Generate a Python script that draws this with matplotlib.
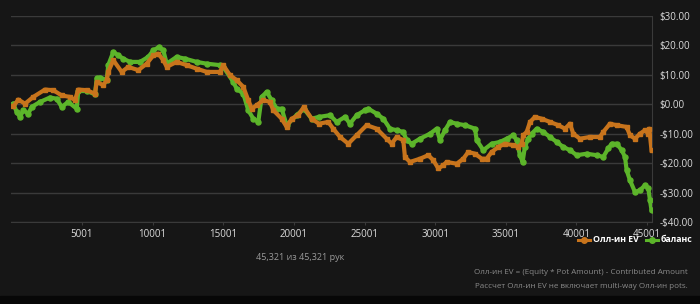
import matplotlib.pyplot as plt
from matplotlib.lines import Line2D

# ------------------------------------------------------------
# данные (руки, $)
# ------------------------------------------------------------
ev_hands = [135, 490, 965, 1550, 2380, 2965, 3560, 4150, 4500, 4735, 5330, 5920,
            6040, 6505, 6745, 6860, 7215, 7810, 8275, 8985, 9580, 10045, 10400,
            10755, 11000, 11700, 12410, 13120, 13825, 14770, 15000, 15475, 15950,
            16420, 16770, 17015, 17365, 17835, 18310, 18545, 19135, 19490, 19845,
            20315, 20705, 21260, 21770, 22435, 22790, 23265, 23850, 24450, 25155,
            25865, 26570, 26925, 27280, 27745, 27865, 28220, 28930, 29515, 29870,
            30225, 30580, 30820, 31530, 31995, 32350, 32825, 33300, 33650, 34005,
            34475, 34945, 35535, 35890, 36130, 36240, 36485, 36720, 37070, 37545,
            38130, 38720, 39195, 39550, 39785, 40255, 40965, 41670, 41905, 42380,
            42855, 43560, 43795, 44150, 44505, 44860, 45095, 45165, 45321]
ev_values = [-0.7, 1.6, 0.2, 2.5, 5.0, 4.8, 3.0, 2.5, 1.4, 5.0, 4.8, 3.6,
             7.6, 6.5, 8.2, 11.0, 15.0, 11.0, 12.7, 11.6, 13.8, 16.6, 17.2,
             15.0, 12.7, 14.4, 13.3, 12.1, 11.0, 11.0, 13.3, 9.9, 8.2,
             5.9, 1.4, -1.5, -0.3, 1.4, 0.8, -2.0, -4.9, -7.7, -4.9,
             -3.7, -0.9, -4.9, -6.6, -6.0, -8.3, -11.1, -13.4, -10.5, -7.1,
             -8.3, -11.7, -13.4, -11.1, -12.2, -17.9, -19.6, -18.5, -17.3, -19.0,
             -21.8, -20.7, -19.6, -20.2, -18.5, -16.2, -16.8, -18.5, -18.5, -16.2,
             -14.5, -13.4, -13.9, -14.5, -13.4, -10.5, -9.4, -6.0, -4.3, -4.9,
             -6.0, -7.1, -8.3, -6.6, -10.0, -11.7, -11.1, -11.1, -9.4, -6.6,
             -7.1, -7.7, -10.5, -11.7, -10.0, -8.8, -10.0, -8.3, -15.6]

bal_hands = [135, 375, 610, 845, 1195, 1440, 2025, 2735, 3210, 3560, 4030, 4625,
             4735, 5330, 5920, 6040, 6275, 6745, 6860, 7215, 7570, 7925, 8400,
             9105, 9695, 10045, 10470, 10755, 11000, 11700, 12290, 13120, 13825,
             14770, 15000, 15710, 15950, 16420, 16770, 17125, 17480, 17720, 18075,
             18430, 18785, 19135, 19490, 20200, 20705, 21260, 21770, 22560, 23030,
             23620, 23970, 24450, 25035, 25270, 25865, 26330, 26805, 27280, 27745,
             27985, 28340, 28930, 29640, 30110, 30345, 30700, 31055, 31530, 32120,
             32825, 32945, 33415, 34005, 34590, 35065, 35535, 35770, 36005, 36195,
             36355, 36590, 36835, 37190, 37660, 38130, 38605, 39075, 39550, 40020,
             40730, 41440, 41905, 42260, 42500, 42855, 43210, 43445, 43560, 43795,
             44150, 44505, 44860, 45095, 45215, 45321]
bal_values = [0.2, -2.6, -4.3, -2.0, -3.2, -0.9, 0.8, 2.3, 1.9, -0.9, 0.8, -1.5,
              4.5, 4.5, 3.4, 8.8, 9.1, 8.2, 13.3, 17.8, 16.6, 15.5, 14.4,
              14.4, 16.1, 18.3, 19.5, 18.3, 13.8, 16.1, 15.5, 14.4, 13.8,
              13.3, 12.7, 7.6, 5.3, 3.6, -2.0, -4.9, -6.0, 2.5, 4.2,
              1.4, -1.5, -1.5, -7.1, -3.7, -1.5, -4.9, -4.3, -3.7, -6.0,
              -4.3, -6.6, -3.7, -2.0, -1.5, -3.2, -4.9, -8.3, -8.8, -9.4,
              -12.2, -13.4, -11.7, -10.0, -8.3, -12.2, -8.8, -6.0, -6.6, -7.1,
              -8.3, -12.2, -15.6, -13.4, -12.8, -11.7, -10.5, -12.2, -17.3, -19.6,
              -14.5, -11.7, -10.0, -8.3, -9.4, -11.1, -12.8, -14.5, -15.6, -17.3,
              -16.8, -17.3, -17.9, -15.0, -13.4, -13.4, -15.6, -17.9, -22.4, -25.8,
              -29.8, -29.2, -27.5, -28.6, -32.6, -36.0]

x_ticks = [5001, 10001, 15001, 20001, 25001, 30001, 35001, 40001, 45001]
y_ticks = [30, 20, 10, 0, -10, -20, -30, -40]
total_hands = 45321

# ------------------------------------------------------------
# цвета
# ------------------------------------------------------------
BG = '#161616'
GRID = '#3a3a3a'
ORANGE = '#c8741c'
GREEN = '#5cb52a'

plt.rcParams['font.family'] = ['Open Sans', 'DejaVu Sans']

fig = plt.figure(figsize=(7, 3.04), dpi=100, facecolor=BG)
ax = fig.add_axes([11.4/700, 1-222/304, (651.5-11.4)/700, (222-16)/304])
ax.set_facecolor(BG)

ax.plot(bal_hands, bal_values, color=GREEN, lw=3.0, marker='o', ms=3.6,
        solid_joinstyle='round', zorder=3)
ax.plot(ev_hands, ev_values, color=ORANGE, lw=3.0, marker='s', ms=3.2,
        solid_joinstyle='round', zorder=4)

ax.set_xlim(1, total_hands)
ax.set_ylim(-40, 30)
ax.set_yticks(y_ticks)
ax.set_yticklabels([f'${v:.2f}' if v >= 0 else f'-${-v:.2f}' for v in y_ticks])
ax.set_xticks(x_ticks)
ax.set_xticklabels([str(v) for v in x_ticks])
ax.yaxis.tick_right()
ax.grid(axis='y', color=GRID, lw=1)
ax.tick_params(axis='y', length=0, pad=6, labelsize=7, labelcolor='#dcdcdc')
ax.tick_params(axis='x', length=2, color=GRID, pad=3, labelsize=7, labelcolor='#dcdcdc')
for s in ['top', 'left']:
    ax.spines[s].set_visible(False)
ax.spines['right'].set_color(GRID)
ax.spines['bottom'].set_color(GRID)

# тёмная полоса внизу
fig.patches.append(plt.Rectangle((0, 0), 1, 8/304, transform=fig.transFigure,
                                 color='#070707', zorder=0))

fig.text(300/700, 1-258/304, f'{total_hands:,} из {total_hands:,} рук', ha='center',
         va='center', fontsize=6.5, color='#9a9a9a')

# легенда вручную
ly = 1 - 240/304
for (x0, x1), col, lbl, tx in [((578, 590), ORANGE, 'Олл-ин EV', 593),
                               ((646, 658), GREEN, 'баланс', 661)]:
    fig.add_artist(Line2D([x0/700, x1/700], [ly, ly], transform=fig.transFigure,
                          color=col, lw=2.2))
    fig.add_artist(Line2D([(x0+x1)/1400], [ly], transform=fig.transFigure,
                          color=col, marker='o', ms=4))
    fig.text(tx/700, ly, lbl, ha='left', va='center', fontsize=6.3,
             fontweight='bold', color='white')

fig.text(688/700, 1-273/304, 'Олл-ин EV = (Equity * Pot Amount) - Contributed Amount',
         ha='right', va='center', fontsize=5.8, color='#8a8a8a')
fig.text(688/700, 1-287/304, 'Рассчет Олл-ин EV не включает multi-way Олл-ин pots.',
         ha='right', va='center', fontsize=5.8, color='#8a8a8a')

fig.savefig('out.png', dpi=100, facecolor=BG)
